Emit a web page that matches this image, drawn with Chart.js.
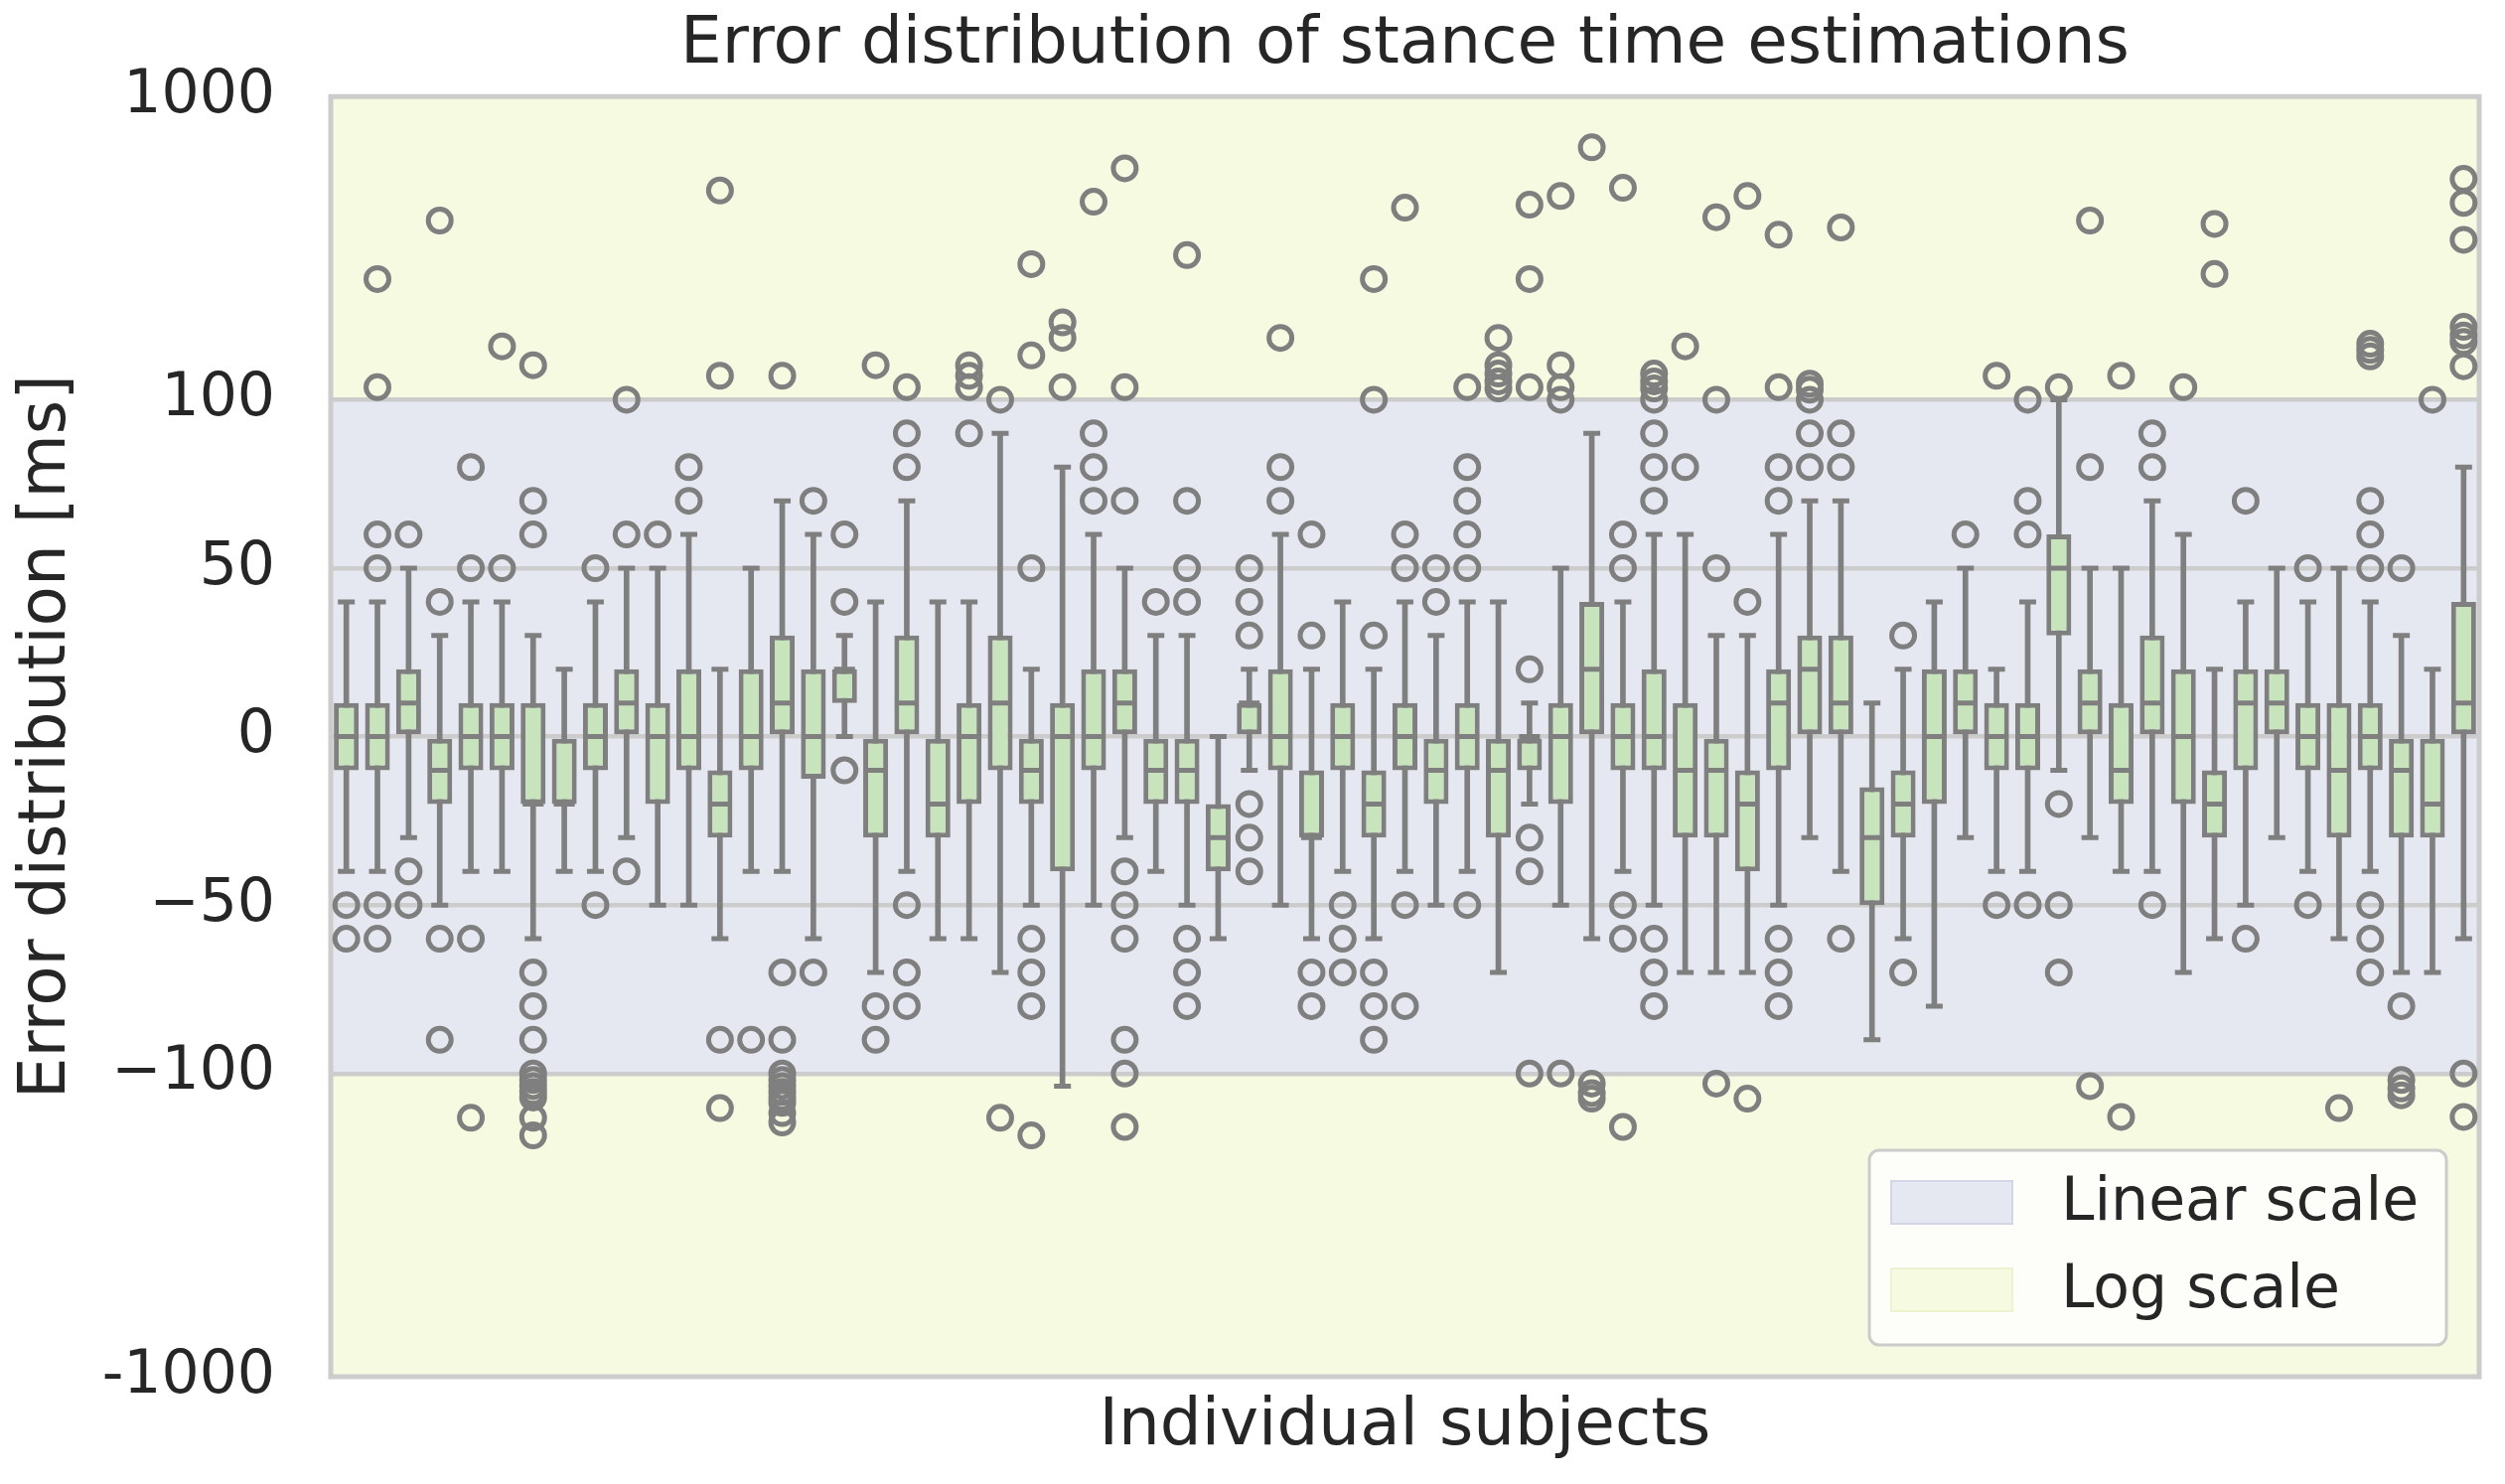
<!DOCTYPE html>
<html>
<head>
<meta charset="utf-8">
<title>Error distribution of stance time estimations</title>
<script src="https://cdn.jsdelivr.net/npm/chart.js@4.4.1/dist/chart.umd.min.js"></script>
<style>
  html, body { margin: 0; padding: 0; background: #ffffff; }
  #wrap { width: 2522px; height: 1494px; }
</style>
</head>
<body>
<div id="wrap"><canvas id="chart" width="2522" height="1494"></canvas></div>
<script>
// one box per subject (ms)
const subjects = Array.from({ length: 69 }, (_, i) => `S${i + 1}`);

const whiskerLow = [-40, -40, -30, -50, -40, -40, -60, -40, -40, -30, -50, -50, -60, -40, -40, -60, 0, -70, -40, -60,
  -60, -70, -50, -110, -50, -30, -40, -50, -60, -10, -50, -60, -40, -60, -40, -50, -40, -70, -20, -50,
  -60, -40, -50, -70, -70, -70, -50, -30, -40, -90, -60, -80, -30, -40, -40, -10, -30, -40, -40, -70,
  -60, -50, -30, -40, -60, -40, -70, -70, -60];
const q1 = [-10, -10, 0, -20, -10, -10, -20, -20, -10, 0, -20, -10, -30, -10, 0, -12.5, 10, -30, 0, -30,
  -20, -10, -20, -40, -10, 0, -20, -20, -40, 0, -10, -30, -10, -30, -10, -20, -10, -30, -10, -20,
  0, -10, -10, -30, -30, -40, -10, 0, 0, -50, -30, -20, 0, -10, -10, 30, 0, -20, 0, -20,
  -30, -10, 0, -10, -30, -10, -30, -30, 0];
const median = [0, 0, 10, -10, 0, 0, -20, -20, 0, 10, 0, 0, -20, 0, 10, 0, 20, -10, 10, -20,
  0, 10, -10, 0, 0, 10, -10, -10, -30, 10, 0, -30, 0, -20, 0, -10, 0, -10, 0, 0,
  20, 0, 0, -10, -10, -20, 10, 20, 10, -30, -20, 0, 10, 0, 0, 50, 10, -10, 10, 0,
  -20, 10, 10, 0, -10, 0, -10, -20, 10];
const q3 = [10, 10, 20, 0, 10, 10, 10, 0, 10, 20, 10, 20, -10, 20, 30, 20, 20, 0, 30, 0,
  10, 30, 0, 10, 20, 20, 0, 0, -20, 10, 20, -10, 10, -10, 10, 0, 10, 0, 0, 10,
  40, 10, 20, 10, 0, -10, 20, 30, 30, -15, -10, 20, 20, 10, 10, 60, 20, 10, 30, 20,
  -10, 20, 20, 10, 10, 10, 0, 0, 40];
const whiskerHigh = [40, 40, 50, 30, 40, 40, 30, 20, 40, 50, 50, 60, 20, 50, 70, 60, 30, 40, 70, 40,
  40, 90, 20, 80, 60, 50, 30, 30, 0, 20, 60, 20, 40, 20, 40, 30, 40, 40, 10, 50,
  90, 40, 60, 60, 30, 30, 60, 70, 70, 10, 20, 40, 50, 20, 40, 100, 50, 50, 70, 60,
  20, 40, 50, 40, 50, 40, 30, 20, 80];
const outliers = [
  [-50, -60], [250, 110, 60, 50, -50, -60], [60, -40, -50], [390, 40, -60, -90], [80, 50, -60, -140],
  [150, 50], [130, 70, 60, -70, -80, -90, -100, -105, -110, -115, -120, -140, -160], [], [50, -50], [100, 60, -40],
  [60], [80, 70], [490, 120, -90, -130], [-90], [120, -70, -90, -100, -105, -110, -115, -120, -125, -135, -145],
  [70, -70], [60, 40, -10], [130, -80, -90], [110, 90, 80, -50, -70, -80], [],
  [130, 120, 110, 90], [100, -140], [280, 140, 50, -60, -70, -80, -160], [180, 160, 110], [450, 90, 80, 70],
  [580, 110, 70, -40, -50, -60, -90, -100, -150], [40], [300, 70, 50, 40, -60, -70, -80], [], [50, 40, 30, -20, -30, -40],
  [160, 80, 70], [60, 30, -70, -80], [-50, -60, -70], [250, 100, 30, -70, -80, -90], [430, 60, 50, -50, -80],
  [50, 40], [110, 80, 70, 60, 50, -50], [160, 130, 122, 115, 109], [440, 250, 110, 20, -30, -40, -100], [470, 130, 110, 100, -100],
  [680, -108, -116, -121], [500, 60, 50, -50, -60, -150], [122, 115, 109, 100, 90, 80, 70, -60, -70, -80], [150, 80], [400, 100, 50, -108],
  [470, 40, -121], [350, 110, 80, 70, -60, -70, -80], [113, 108, 100, 90, 80], [370, 90, 80, -60], [],
  [30, -70], [], [60], [120, -50], [100, 70, 60, -50],
  [110, -20, -50, -70], [390, 80, -110], [120, -139], [90, 80, -50], [110],
  [380, 260], [70, -60], [], [50, -50], [-130],
  [153, 146, 139, 70, 60, 50, -50, -60, -70], [50, -80, -105, -112, -118], [100], [535, 446, 337, 174, 163, 155, 129, -100, -139]
];

const yTickValues = [-1000, -100, -50, 0, 50, 100, 1000];
const yTickLabels = ['-1000', '\u2212100', '\u221250', '0', '50', '100', '1000'];

const linThresh = 100;
const linearColor = '#E6E8F1';
const logColor = '#F5FAE1';
const boxColor = '#C8E4BC';
const lineGray = '#7F7F7F';
const textColor = '#262626';
const fontFamily = "'DejaVu Sans', sans-serif";

// matplotlib symlog (base 10, linscale 1)
const linScale = 1 / (1 - 1 / 10);
const symlog = (v) => {
  const a = Math.abs(v);
  const t = a <= linThresh ? a * linScale : linThresh * (linScale + Math.log10(a / linThresh));
  return Math.sign(v) * t;
};

const boxShare = 0.8;
const lineW = 5;
const halfBox = (chart) => (chart.scales.x.width / subjects.length) * boxShare / 2;

const outlierPoints = [];
outliers.forEach((list, i) => list.forEach((v) => outlierPoints.push({ x: subjects[i], y: symlog(v) })));

const spanPlugin = {
  id: 'spanPlugin',
  beforeDraw(chart) {
    const { ctx, chartArea: a, scales: { y } } = chart;
    const top = y.getPixelForValue(symlog(linThresh));
    const bottom = y.getPixelForValue(symlog(-linThresh));
    ctx.save();
    ctx.fillStyle = logColor;
    ctx.fillRect(a.left, a.top, a.width, a.height);
    ctx.fillStyle = linearColor;
    ctx.fillRect(a.left, top, a.width, bottom - top);
    ctx.restore();
  },
  beforeDatasetsDraw(chart) {
    const { ctx, chartArea: a } = chart;
    ctx.save();
    ctx.strokeStyle = '#CCCCCC';
    ctx.lineWidth = 5;
    ctx.strokeRect(a.left, a.top, a.width, a.height);
    ctx.restore();
  },
  afterDraw(chart) {
    // legend box in the lower right corner of the plot
    const { ctx, chartArea: a } = chart;
    const w = 581, h = 196, r = 10;
    const left = a.right - 33 - w;
    const top = a.bottom - 32 - h;
    ctx.save();
    ctx.beginPath();
    ctx.moveTo(left + r, top);
    ctx.arcTo(left + w, top, left + w, top + h, r);
    ctx.arcTo(left + w, top + h, left, top + h, r);
    ctx.arcTo(left, top + h, left, top, r);
    ctx.arcTo(left, top, left + w, top, r);
    ctx.closePath();
    ctx.fillStyle = 'rgba(255,255,255,0.8)';
    ctx.fill();
    ctx.strokeStyle = '#CCCCCC';
    ctx.lineWidth = 3;
    ctx.stroke();

    const items = [
      { label: 'Linear scale', fill: linearColor, edge: '#D3D6E6', cy: top + 52 },
      { label: 'Log scale', fill: logColor, edge: '#EDF3D0', cy: top + 140 }
    ];
    ctx.font = `60px ${fontFamily}`;
    ctx.textBaseline = 'middle';
    items.forEach((it) => {
      ctx.fillStyle = it.fill;
      ctx.fillRect(left + 21, it.cy - 22, 124, 45);
      ctx.strokeStyle = it.edge;
      ctx.lineWidth = 2;
      ctx.strokeRect(left + 22, it.cy - 21, 122, 43);
      ctx.fillStyle = textColor;
      ctx.fillText(it.label, left + 193, it.cy + 2);
    });
    ctx.restore();
  }
};

new Chart(document.getElementById('chart'), {
  type: 'bar',
  data: {
    labels: subjects,
    datasets: [
      {
        label: 'whiskers',
        data: whiskerLow.map((lo, i) => [symlog(lo), symlog(whiskerHigh[i])]),
        backgroundColor: lineGray,
        borderWidth: 0,
        barThickness: lineW,
        grouped: false,
        order: 4
      },
      {
        label: 'boxes',
        data: q1.map((lo, i) => [symlog(lo), symlog(q3[i])]),
        backgroundColor: boxColor,
        borderColor: lineGray,
        borderWidth: lineW,
        borderSkipped: false,
        categoryPercentage: 1,
        barPercentage: boxShare,
        grouped: false,
        order: 3
      },
      {
        type: 'line',
        label: 'median',
        data: median.map(symlog),
        showLine: false,
        pointStyle: 'line',
        pointRadius: (ctx) => halfBox(ctx.chart) - 2,
        pointBorderWidth: lineW,
        pointBorderColor: lineGray,
        order: 2
      },
      {
        type: 'line',
        label: 'capLow',
        data: whiskerLow.map(symlog),
        showLine: false,
        pointStyle: 'line',
        pointRadius: 8.5,
        pointBorderWidth: lineW,
        pointBorderColor: lineGray,
        order: 1
      },
      {
        type: 'line',
        label: 'capHigh',
        data: whiskerHigh.map(symlog),
        showLine: false,
        pointStyle: 'line',
        pointRadius: 8.5,
        pointBorderWidth: lineW,
        pointBorderColor: lineGray,
        order: 1
      },
      {
        type: 'line',
        label: 'outliers',
        data: outlierPoints,
        showLine: false,
        pointStyle: 'circle',
        pointRadius: 11.5,
        pointBorderWidth: 5,
        pointBorderColor: lineGray,
        pointBackgroundColor: 'rgba(0,0,0,0)',
        order: 0
      }
    ]
  },
  options: {
    responsive: false,
    devicePixelRatio: 1,
    animation: false,
    events: [],
    layout: { padding: { top: 0, right: 26, bottom: 0, left: 0 } },
    plugins: {
      legend: { display: false },
      tooltip: { enabled: false },
      title: {
        display: true,
        fullSize: false,
        text: 'Error distribution of stance time estimations',
        color: textColor,
        font: { family: fontFamily, size: 66, weight: 'normal' },
        padding: { top: 6, bottom: 12 }
      }
    },
    scales: {
      x: {
        offset: true,
        grid: { display: false },
        border: { display: false },
        ticks: { display: false },
        title: {
          display: true,
          text: 'Individual subjects',
          color: textColor,
          font: { family: fontFamily, size: 66 },
          padding: { top: 0, bottom: 18 }
        },
        afterFit: (scale) => { scale.height = 108; }
      },
      y: {
        min: symlog(-1000),
        max: symlog(1000),
        afterBuildTicks: (scale) => {
          scale.ticks = yTickValues.map((v) => ({ value: symlog(v) }));
        },
        ticks: {
          callback: (val, idx) => yTickLabels[idx],
          color: textColor,
          font: { family: fontFamily, size: 60 },
          padding: 56
        },
        grid: {
          drawTicks: false,
          lineWidth: 4.5,
          color: (ctx) => (ctx.tick && Math.abs(ctx.tick.value) < symlog(1000) - 1 ? '#CCCCCC' : 'rgba(0,0,0,0)')
        },
        border: { display: false },
        title: {
          display: true,
          text: 'Error distribution [ms]',
          color: textColor,
          font: { family: fontFamily, size: 66 },
          padding: { top: 8, bottom: 0 }
        },
        afterFit: (scale) => { scale.width = 333; }
      }
    }
  },
  plugins: [spanPlugin]
});
</script>
</body>
</html>
